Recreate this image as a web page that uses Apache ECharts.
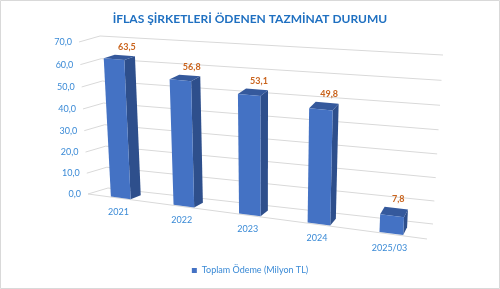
<!DOCTYPE html>
<html><head><meta charset="utf-8">
<script src="https://cdn.jsdelivr.net/npm/echarts@6/dist/echarts.min.js"></script>
<style>html,body{margin:0;padding:0;background:#fff}#c{width:500px;height:289px}</style>
</head><body><div id="c"></div>
<script>
const title = 'İFLAS ŞİRKETLERİ ÖDENEN TAZMİNAT DURUMU';
const categories = ['2021', '2022', '2023', '2024', '2025/03'];
const values = [63.5, 56.8, 53.1, 49.8, 7.8];
const valueLabels = ['63,5', '56,8', '53,1', '49,8', '7,8'];
const yTicks = [0, 10, 20, 30, 40, 50, 60, 70];
const yTickLabels = ['0,0', '10,0', '20,0', '30,0', '40,0', '50,0', '60,0', '70,0'];
const seriesName = 'Toplam Ödeme (Milyon TL)';

// perspective planes (back wall and front plane) for the 3D look
function makeH(p00, p10, p11, p01) {
  const x0=p00[0],y0=p00[1],x1=p10[0],y1=p10[1],x2=p11[0],y2=p11[1],x3=p01[0],y3=p01[1];
  const dx1=x1-x2,dx2=x3-x2,dx3=x0-x1+x2-x3,dy1=y1-y2,dy2=y3-y2,dy3=y0-y1+y2-y3;
  const den=dx1*dy2-dx2*dy1;
  const g=(dx3*dy2-dx2*dy3)/den, h=(dx1*dy3-dx3*dy1)/den;
  const a=x1-x0+g*x1,b=x3-x0+h*x3,c=x0,d=y1-y0+g*y1,e=y3-y0+h*y3,f=y0;
  return function(u,v){const w=g*u+h*v+1;return [(a*u+b*v+c)/w,(d*u+e*v+f)/w];};
}
const Hb = makeH([108,188],[433,224],[443,55],[100,36]);
const Hf = makeH([88,194],[427,239],[436,70],[79,42]);
function P(u,d,v){const b=Hb(u,v),f=Hf(u,v);return [b[0]+(f[0]-b[0])*d,b[1]+(f[1]-b[1])*d];}
function norm(params, pt){
  const cs=params.coordSys;
  return [(pt[0]-cs.x)/cs.width,(cs.y+cs.height-pt[1])/cs.height];
}
const FONT='Lato';
const BLUE_TXT='#3a8ad6';

const chart = echarts.init(document.getElementById('c'), null, {renderer:'canvas'});
chart.setOption({
  animation:false,
  title:{text:title,left:'center',top:8,textStyle:{fontFamily:FONT,fontWeight:'bold',fontSize:12,color:'#1f70c1'}},
  legend:{bottom:9,left:'center',icon:'rect',itemWidth:5,itemHeight:5,itemGap:4,data:[seriesName],
    textStyle:{fontFamily:FONT,fontSize:9,color:BLUE_TXT}},
  grid:{left:100,top:50,width:300,height:150},
  xAxis:{type:'category',data:categories,show:false,boundaryGap:true},
  yAxis:{type:'value',min:0,max:70,interval:10,show:false},
  graphic:[{type:'rect',shape:{x:0.5,y:0.5,width:499,height:288},style:{fill:'none',stroke:'#d9d9d9',lineWidth:1},silent:true}],
  series:[
    {type:'custom',name:'grid',silent:true,z:1,legendHoverLink:false,
      data:yTicks.map((v,i)=>[0,v,i]),
      renderItem:function(params,api){
        const pt=api.coord([0,api.value(1)]);
        const v=norm(params,pt)[1];
        const i=api.value(2);
        const a=Hf(0,v),b=Hb(0,v),c=Hb(1,v);
        const ch=[
          {type:'polyline',shape:{points:[a,b,c]},style:{fill:'none',stroke:'#d9d9d9',lineWidth:1}},
          {type:'text',style:{text:yTickLabels[i],x:a[0]-7,y:a[1],align:'right',verticalAlign:'middle',
            font:'9px '+FONT,fill:BLUE_TXT}}
        ];
        if(i===0){
          const e=Hf(1,0);
          ch.push({type:'line',shape:{x1:a[0],y1:a[1],x2:e[0],y2:e[1]},style:{stroke:'#d9d9d9',lineWidth:1}});
        }
        return {type:'group',children:ch};
      }},
    {type:'custom',name:seriesName,z:2,itemStyle:{color:'#4472C4'},
      data:values.map((v,i)=>[i,v]),
      renderItem:function(params,api){
        const i=api.value(0),val=api.value(1);
        const pc=api.coord([i,0]),pt=api.coord([i,val]);
        const n0=norm(params,pc),n1=norm(params,pt);
        const uc=n0[0]+0.004,v1=n1[1];
        const bw=api.size([1,0])[0]/params.coordSys.width;
        const hw=bw*0.16;
        const df=0.95,db=0.4;
        const ul=uc-hw,ur=uc+hw;
        const f0=P(ul,df,0),f1=P(ur,df,0),f2=P(ur,df,v1),f3=P(ul,df,v1);
        const s0=P(ur,db,0),s1=P(ur,db,v1),t0=P(ul,db,v1);
        const top=P(uc,db,v1);
        return {type:'group',children:[
          {type:'polygon',shape:{points:[f1,s0,s1,f2]},style:{fill:'#2e4f8c'}},
          {type:'polygon',shape:{points:[f3,f2,s1,t0]},style:{fill:'#35599c'}},
          {type:'polygon',shape:{points:[f0,f1,f2,f3]},style:{fill:'#4472C4'}},
          {type:'text',style:{text:valueLabels[i],x:top[0]+2,y:top[1]-4,align:'center',verticalAlign:'bottom',
            font:'bold 9px '+FONT,fill:'#c9631c'}}
        ]};
      }},
    {type:'custom',name:'cat',silent:true,z:3,
      data:categories.map((c,i)=>[i,0]),
      renderItem:function(params,api){
        const i=api.value(0);
        const pc=api.coord([i,0]);
        const uc=norm(params,pc)[0];
        const p=Hf(uc,0);
        return {type:'text',style:{text:categories[i],x:p[0],y:p[1]+14,align:'center',verticalAlign:'middle',
          font:'9px '+FONT,fill:BLUE_TXT}};
      }}
  ]
});
</script></body></html>
